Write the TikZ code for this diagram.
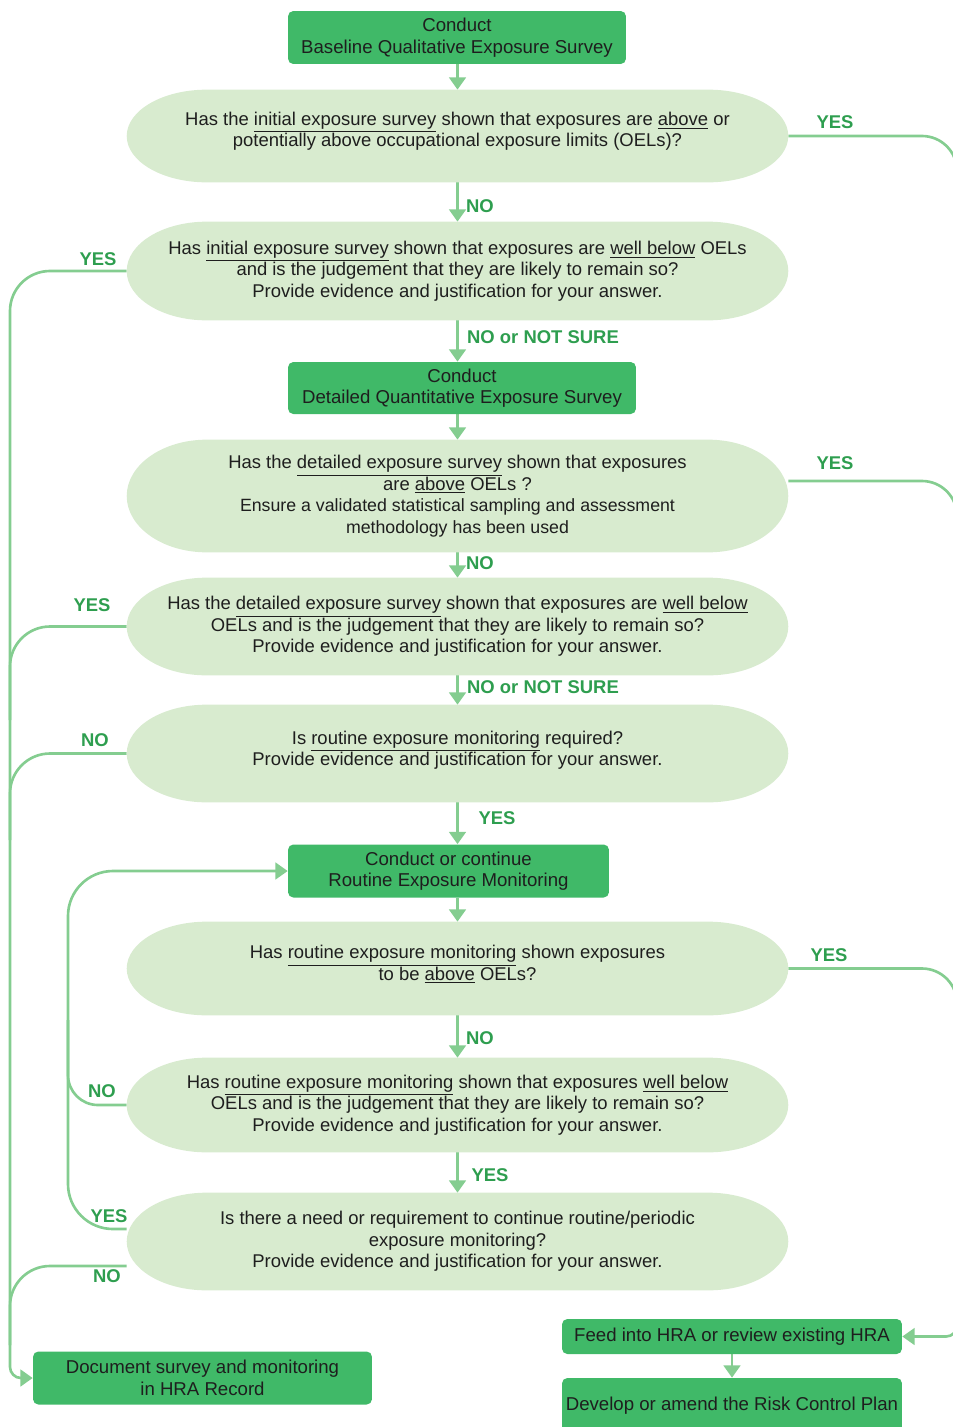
\documentclass[tikz,border=0pt]{standalone}
\usepackage{fontspec}
\setmainfont{Liberation Sans}
\usetikzlibrary{arrows.meta,calc}
\definecolor{boxg}{HTML}{40B968}
\definecolor{ellg}{HTML}{D8EBCF}
\definecolor{lineg}{HTML}{84CD90}
\definecolor{labg}{HTML}{2E9E4F}
\definecolor{txt}{HTML}{1E1E1E}
\pgfdeclarelayer{lines}
\pgfdeclarelayer{shapes}
\pgfsetlayers{lines,shapes,main}
\newcommand\qshape[1]{%
  \begin{pgfonlayer}{shapes}
  \fill[ellg] let \p1=(#1.north west), \p2=(#1.south east), \n1={(\y1-\y2)/2} in
    ({\x1+1.6cm},\y1) -- ({\x2-1.6cm},\y1)
    arc[start angle=90,end angle=-90,x radius=1.6cm,y radius=\n1]
    -- ({\x1+1.6cm},\y2)
    arc[start angle=270,end angle=90,x radius=1.6cm,y radius=\n1] -- cycle;
  \end{pgfonlayer}}
\tikzset{
  x=0.02cm, y=-0.02cm,
  q/.style={align=center, inner sep=0pt, minimum width=13.22cm, text=txt,
    font=\fontsize{10.5}{12.2}\selectfont},
  gbox/.style={fill=boxg, rounded corners=3pt, align=center, inner sep=0pt,
    text=txt, font=\fontsize{10.6}{12.2}\selectfont},
  lab/.style={text=labg, font=\fontsize{10.5}{12}\selectfont\bfseries, inner sep=0pt},
  conn/.style={draw=lineg, line width=1.5pt},
  arr/.style={conn, -{Triangle[length=7pt,width=9.5pt]}, lineg},
}
\begin{document}
\begin{tikzpicture}
\useasboundingbox (0,0) rectangle (953,1427);
\clip (0,0) rectangle (953,1427);

% boxes
\node[gbox, minimum width=6.76cm, minimum height=1.06cm] (b1) at (457,37.5)
  {Conduct\\Baseline Qualitative Exposure Survey};
\node[gbox, minimum width=6.96cm, minimum height=1.04cm] (b2) at (462,388)
  {Conduct\\Detailed Quantitative Exposure Survey};
\node[gbox, minimum width=6.42cm, minimum height=1.06cm] (b3) at (448.5,871)
  {Conduct or continue\\Routine Exposure Monitoring};
\node[gbox, minimum width=6.78cm, minimum height=1.06cm] (doc) at (202.5,1378)
  {Document survey and monitoring\\in HRA Record};
\node[gbox, minimum width=6.8cm, minimum height=0.7cm] (feed) at (732,1336.5)
  {Feed into HRA or review existing HRA};
\node[gbox, minimum width=6.8cm, minimum height=1.12cm] (dev) at (732,1406)
  {Develop or amend the Risk Control Plan};

% question shapes
\node[q, minimum height=1.84cm, text depth=0.27cm] (q1) at (457.5,136)
  {Has the \underline{initial exposure survey} shown that exposures are \underline{above} or\\
   potentially above occupational exposure limits (OELs)?};
\node[q, minimum height=1.96cm] (q2) at (457.5,271)
  {Has \underline{initial exposure survey} shown that exposures are \underline{well below} OELs\\
   and is the judgement that they are likely to remain so?\\
   Provide evidence and justification for your answer.};
\node[q, minimum height=2.24cm] (q3) at (457.5,496)
  {Has the \underline{detailed exposure survey} shown that exposures\\
   are \underline{above} OELs ?\\
   {\fontsize{10.1}{12.2}\selectfont Ensure a validated statistical sampling and assessment}\\
   {\fontsize{10.1}{12.2}\selectfont methodology has been used}};
\node[q, minimum height=1.94cm] (q4) at (457.5,626.5)
  {Has the \underline{detailed exposure survey} shown that exposures are \underline{well below}\\
   OELs and is the judgement that they are likely to remain so?\\
   Provide evidence and justification for your answer.};
\node[q, minimum height=1.94cm, text depth=0.21cm] (q5) at (457.5,753.5)
  {Is \underline{routine exposure monitoring} required?\\
   Provide evidence and justification for your answer.};
\node[q, minimum height=1.86cm, text depth=0.23cm] (q6) at (457.5,968.5)
  {Has \underline{routine exposure monitoring} shown exposures\\
   to be \underline{above} OELs?};
\node[q, minimum height=1.88cm] (q7) at (457.5,1105)
  {Has \underline{routine exposure monitoring} shown that exposures \underline{well below}\\
   OELs and is the judgement that they are likely to remain so?\\
   Provide evidence and justification for your answer.};
\node[q, minimum height=1.94cm] (q8) at (457.5,1241.5)
  {Is there a need or requirement to continue routine/periodic\\
   exposure monitoring?\\
   Provide evidence and justification for your answer.};
\qshape{q1}\qshape{q2}\qshape{q3}\qshape{q4}
\qshape{q5}\qshape{q6}\qshape{q7}\qshape{q8}

% labels
\node[lab] (l1) at (835,122) {YES};
\node[lab] (l2) at (480,206) {NO};
\node[lab] (l3) at (98,259) {YES};
\node[lab] (l4) at (543,337) {NO or NOT SURE};
\node[lab] (l5) at (835,463) {YES};
\node[lab] (l6) at (480,563) {NO};
\node[lab] (l7) at (92,605) {YES};
\node[lab] (l8) at (543,687) {NO or NOT SURE};
\node[lab] (l9) at (95,740) {NO};
\node[lab] (l10) at (497,818) {YES};
\node[lab] (l11) at (829,955) {YES};
\node[lab] (l12) at (480,1038) {NO};
\node[lab] (l13) at (102,1091) {NO};
\node[lab] (l14) at (490,1175) {YES};
\node[lab] (l15) at (109,1216) {YES};
\node[lab] (l16) at (107,1276) {NO};

% bus coordinates
\coordinate (L1) at (10,1345);
\coordinate (L)  at (10,1378);
\coordinate (j4) at (10,720);
\coordinate (j5) at (10,840);
\coordinate (j8) at (10,1345);
\coordinate (I)  at (68,871);
\coordinate (j7) at (68,1020);
\coordinate (R1) at (957,1300);
\coordinate (R)  at (957,1336.5);
\coordinate (r3) at (957,560);
\coordinate (r6) at (957,1050);

\begin{pgfonlayer}{lines}
% main vertical flow
\draw[arr] (q1.north |- b1.south) -- (q1.north);
\draw[arr] (q1.south) -- (q2.north);
\draw[arr] (q2.south) -- (q2.south |- b2.north);
\draw[arr] (q3.north |- b2.south) -- (q3.north);
\draw[arr] (q3.south) -- (q4.north);
\draw[arr] (q4.south) -- (q5.north);
\draw[arr] (q5.south) -- (q5.south |- b3.north);
\draw[arr] (q6.north |- b3.south) -- (q6.north);
\draw[arr] (q6.south) -- (q7.north);
\draw[arr] (q7.south) -- (q8.north);
\draw[arr] (feed.south) -- (dev.north);

% left bus
\draw[conn, rounded corners=0.8cm] (q2.west) -| (L1);
\draw[arr, rounded corners=0.22cm] (L1) -- (L) -- (doc.west);
\draw[conn, rounded corners=0.8cm] (q4.west) -| (j4);
\draw[conn, rounded corners=0.8cm] (q5.west) -| (j5);
\draw[conn, rounded corners=0.8cm] ([yshift=-0.49cm]q8.west) -| (j8);

% inner loop
\draw[arr, rounded corners=0.9cm] ([yshift=0.25cm]q8.west) -| (I) -- (b3.west);
\draw[conn, rounded corners=0.6cm] (q7.west) -| (j7);

% right bus
\draw[conn, rounded corners=0.7cm] (q1.east) -| (R1);
\draw[arr, rounded corners=0.22cm] (R1) -- (R) -- (feed.east);
\draw[conn, rounded corners=0.7cm] ([yshift=0.3cm]q3.east) -| (r3);
\draw[conn, rounded corners=0.7cm] (q6.east) -| (r6);
\end{pgfonlayer}
\end{tikzpicture}
\end{document}
